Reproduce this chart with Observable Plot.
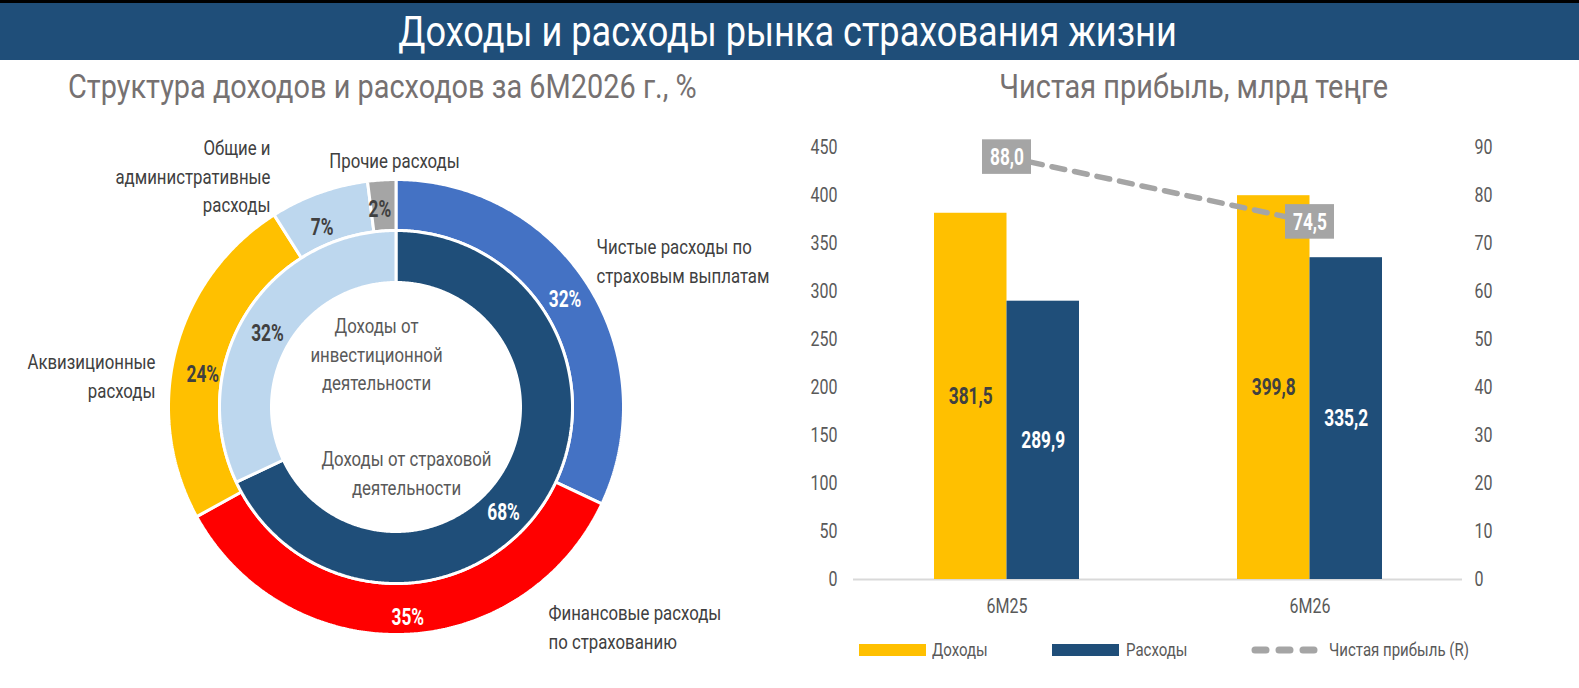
<!DOCTYPE html>
<html lang="ru">
<head>
<meta charset="utf-8">
<script src="https://cdn.jsdelivr.net/npm/d3@7"></script>
<script src="https://cdn.jsdelivr.net/npm/@observablehq/plot@0.6"></script>
<style>
  html, body { margin: 0; padding: 0; background: #fff; }
  body { width: 1579px; height: 688px; position: relative; overflow: hidden; font-family: Roboto, "Liberation Sans", sans-serif; }
  .cond { display: inline-block; white-space: nowrap; }
  #banner { position: absolute; left: 0; top: 0; width: 1579px; height: 60px; background: #1F4E79;
            border-top: 3px solid #000; box-sizing: border-box; color: #fff; font-size: 42px;
            text-align: center; line-height: 57px; padding-right: 4px; }
  #banner .cond { transform: scaleX(0.86); transform-origin: center; }
  .sub { position: absolute; top: 64px; font-size: 34px; color: #767171; white-space: nowrap; line-height: 44px; }
  .sub .cond { transform: scaleX(0.85); }
  #left { position: absolute; left: 0; top: 110px; }
  #right { position: absolute; left: 780px; top: 110px; }
  .leg { position: absolute; top: 637px; font-size: 19px; color: #595959; line-height: 26px; white-space: nowrap; }
  .leg .cond { transform: scaleX(0.79); transform-origin: left; }
  .sw { position: absolute; top: 644px; height: 12px; }
</style>
</head>
<body>
<div id="banner"><span class="cond">Доходы и расходы рынка страхования жизни</span></div>
<div class="sub" style="left:68px"><span class="cond" style="transform-origin:left">Структура доходов и расходов за 6М2026 г., %</span></div>
<div class="sub" style="left:944px; width:500px; text-align:center"><span class="cond" style="transform-origin:center">Чистая прибыль, млрд теңге</span></div>
<div id="left"></div>
<div id="right"></div>
<div class="sw" style="left:859px; width:67px; background:#FFC000"></div>
<div class="leg" style="left:932px"><span class="cond">Доходы</span></div>
<div class="sw" style="left:1052px; width:67px; background:#1F4E79"></div>
<div class="leg" style="left:1126px"><span class="cond">Расходы</span></div>
<svg style="position:absolute; left:1249px; top:644px" width="72" height="12">
  <line x1="6" y1="6" x2="66" y2="6" stroke="#A5A5A5" stroke-width="7" stroke-linecap="round" stroke-dasharray="11,13"/>
</svg>
<div class="leg" style="left:1329px"><span class="cond">Чистая прибыль (R)</span></div>
<script>
// ---------- DATA ----------
const outerCategories = ["Чистые расходы по\nстраховым выплатам", "Финансовые расходы\nпо страхованию", "Аквизиционные\nрасходы", "Общие и\nадминистративные\nрасходы", "Прочие расходы"];
const outerShares = [32, 35, 24, 7, 2];
const innerCategories = ["Доходы от страховой\nдеятельности", "Доходы от\nинвестиционной\nдеятельности"];
const innerShares = [68, 32];

const periods = ["6М25", "6М26"];
const income = [381.5, 399.8];
const expenses = [289.9, 335.2];
const netProfit = [88.0, 74.5];
const leftTicks = [0, 50, 100, 150, 200, 250, 300, 350, 400, 450];
const rightTicks = [0, 10, 20, 30, 40, 50, 60, 70, 80, 90];

// ---------- STYLE / LAYOUT ----------
const FONT = 'Roboto, "Liberation Sans", sans-serif';
const COND = 0.8, COND_BOLD = 0.72;
const outerColors = ["#4472C4", "#FF0000", "#FFC000", "#BDD7EE", "#A5A5A5"];
const outerLabelColors = ["#fff", "#fff", "#404040", "#404040", "#404040"];
const innerColors = ["#1F4E79", "#BDD7EE"];
const innerLabelColors = ["#fff", "#404040"];
const DARK = "#404040", LABEL = "#595959";
const ring = {outer: [176.5, 227.5], inner: [124.5, 176.5]};
// callout placement (pixels relative to donut centre)
const outerCallouts = [
  {dx: 200, dy: -148, anchor: "start"},
  {dx: 152, dy: 218, anchor: "start"},
  {dx: -241, dy: -33, anchor: "end"},
  {dx: -126, dy: -233, anchor: "end"},
  {dx: -2, dy: -249, anchor: "middle"}
];
const innerCallouts = [{dx: 10, dy: 64}, {dx: -20, dy: -55}];
const innerPctShift = [{dx: -20, dy: 24}, {dx: -2, dy: 6}];
const outerPctShift = [{dx: -2, dy: 0}, {dx: 5, dy: 8}, {dx: 2, dy: 17}, {dx: -6, dy: 10}, {dx: -4, dy: 3}];

const fmt = v => d3.format(".1f")(v).replace(".", ",");

// narrow all svg text horizontally (emulates the condensed face of the original)
function condense(svg) {
  svg.querySelectorAll("text").forEach(t => {
    const k = t.closest('[font-weight="bold"]') ? COND_BOLD : COND;
    const tr = t.getAttribute("transform") || "";
    t.setAttribute("transform", `${tr} scale(${k},1)`);
  });
}

// ---------- DONUT ----------
function slices(shares, cats, colors, labelColors, radii, shifts) {
  const total = d3.sum(shares);
  let acc = 0;
  return shares.map((s, i) => {
    const a0 = acc / total * 360, a1 = (acc + s) / total * 360;
    acc += s;
    return {name: cats[i], share: s, a0, a1, mid: (a0 + a1) / 2, color: colors[i], labelColor: labelColors[i], r0: radii[0], r1: radii[1], shift: shifts[i]};
  });
}
function arcPoints(sl) {
  const pts = [];
  const n = Math.max(4, Math.ceil((sl.a1 - sl.a0) / 0.5));
  for (let k = 0; k <= n; k++) {
    const a = (sl.a0 + (sl.a1 - sl.a0) * k / n) * Math.PI / 180;
    pts.push({name: sl.name, color: sl.color,
      xo: sl.r1 * Math.sin(a), yo: -sl.r1 * Math.cos(a),
      xi: sl.r0 * Math.sin(a), yi: -sl.r0 * Math.cos(a)});
  }
  return pts;
}
const outer = slices(outerShares, outerCategories, outerColors, outerLabelColors, ring.outer, outerPctShift);
const inner = slices(innerShares, innerCategories, innerColors, innerLabelColors, ring.inner, innerPctShift);
const arcs = [...outer, ...inner].flatMap(arcPoints);
const polar = (deg, r) => [r * Math.sin(deg * Math.PI / 180), -r * Math.cos(deg * Math.PI / 180)];
const pctLabels = [...outer, ...inner].map(s => {
  const [x, y] = polar(s.mid, (s.r0 + s.r1) / 2);
  return {x: x + s.shift.dx, y: y + s.shift.dy, text: s.share + "%", color: s.labelColor};
});
const outerLab = outer.map((s, i) => ({x: outerCallouts[i].dx, y: outerCallouts[i].dy, text: s.name, anchor: outerCallouts[i].anchor}));
const innerLab = inner.map((s, i) => ({x: innerCallouts[i].dx, y: innerCallouts[i].dy, text: s.name}));

const cx = 396, cy = 297, LW = 780, LH = 570;
const calloutMark = anchor => Plot.text(outerLab.filter(d => d.anchor === anchor),
  {x: "x", y: "y", text: "text", fill: DARK, fontSize: 21, textAnchor: anchor, lineHeight: 1.35});
const donut = Plot.plot({
  width: LW, height: LH, margin: 0,
  x: {domain: [-cx, LW - cx], range: [0, LW], axis: null},
  y: {domain: [-cy, LH - cy], range: [0, LH], axis: null},
  color: {type: "identity"},
  style: {fontFamily: FONT, background: "transparent", overflow: "visible"},
  marks: [
    Plot.area(arcs, {x1: "xo", y1: "yo", x2: "xi", y2: "yi", z: "name", fill: "color", stroke: "#fff", strokeWidth: 3, strokeLinejoin: "miter"}),
    Plot.text(pctLabels, {x: "x", y: "y", text: "text", fill: "color", fontSize: 24, fontWeight: "bold"}),
    calloutMark("start"), calloutMark("end"), calloutMark("middle"),
    Plot.text(innerLab, {x: "x", y: "y", text: "text", fill: LABEL, fontSize: 21, lineHeight: 1.35})
  ]
});
condense(donut);
document.getElementById("left").appendChild(donut);

// ---------- BAR + LINE ----------
const rows = periods.map((p, i) => ({period: p, income: income[i], expenses: expenses[i], profit: netProfit[i]}));
const RATIO = leftTicks[leftTicks.length - 1] / rightTicks[rightTicks.length - 1]; // right axis mapped onto left
const RW = 799, RH = 570;
const half = 72.5;
const bars = Plot.plot({
  width: RW, height: RH,
  marginLeft: 73, marginRight: 117, marginTop: 37, marginBottom: RH - 469,
  x: {domain: periods, range: [74.5, 680.5], paddingInner: 0.5215, paddingOuter: 0.26075, axis: null},
  y: {domain: [0, 450], range: [469, 37], axis: null},
  style: {fontFamily: FONT, background: "transparent", overflow: "visible", color: LABEL},
  marks: [
    Plot.axisY(leftTicks, {anchor: "left", tickSize: 0, tickPadding: 16, fontSize: 20, fill: LABEL, label: null}),
    Plot.axisY(rightTicks.map(v => v * RATIO), {anchor: "right", tickSize: 0, tickPadding: 12, fontSize: 20, fill: LABEL, label: null, tickFormat: d => d / RATIO}),
    Plot.axisX({tickSize: 0, tickPadding: 19, fontSize: 20, fill: LABEL, label: null}),
    Plot.ruleY([0], {stroke: "#D9D9D9", strokeWidth: 2}),
    Plot.barY(rows, {x: "period", y: "income", fill: "#FFC000", insetRight: half}),
    Plot.barY(rows, {x: "period", y: "expenses", fill: "#1F4E79", insetLeft: half}),
    Plot.text(rows, {x: "period", y: d => d.income / 2, dx: -half / 2, text: d => fmt(d.income), fill: DARK, fontSize: 24, fontWeight: "bold"}),
    Plot.text(rows, {x: "period", y: d => d.expenses / 2, dx: half / 2, text: d => fmt(d.expenses), fill: "#fff", fontSize: 24, fontWeight: "bold"}),
    Plot.line(rows, {x: "period", y: d => d.profit * RATIO, stroke: "#A5A5A5", strokeWidth: 5.5, strokeDasharray: "13,10", strokeLinecap: "round"}),
    Plot.rect(rows, {x: "period", y1: d => d.profit * RATIO - 18, y2: d => d.profit * RATIO + 18, fill: "#A5A5A5", insetLeft: 48, insetRight: 48}),
    Plot.text(rows, {x: "period", y: d => d.profit * RATIO, text: d => fmt(d.profit), fill: "#fff", fontSize: 24, fontWeight: "bold"})
  ]
});
condense(bars);
document.getElementById("right").appendChild(bars);
</script>
</body>
</html>
